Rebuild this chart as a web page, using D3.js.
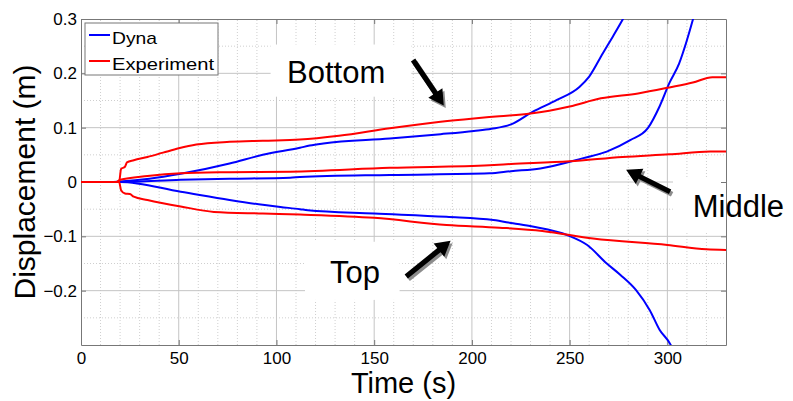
<!DOCTYPE html>
<html>
<head>
<meta charset="utf-8">
<script src="https://cdn.jsdelivr.net/npm/d3@7"></script>
<style>
  html, body { margin: 0; padding: 0; background: #fff; }
  svg { display: block; font-family: "Liberation Sans", Arial, sans-serif; }
</style>
</head>
<body>
<svg id="chart" width="793" height="401"></svg>
<script>
// Displacement histories at three heights: LS-Dyna simulation vs. experiment
const xTicks = [0, 50, 100, 150, 200, 250, 300];
const yTicks = [-0.2, -0.1, 0, 0.1, 0.2, 0.3];

// Dyna (simulation) – time (s) / displacement (m)
const dynaBottomT = [0, 15, 20, 35, 51, 76, 93, 112, 117, 124, 158, 184, 201, 210, 220, 231, 243.5, 255, 260, 267, 272, 277, 281];
const dynaBottomV = [0, 0, 0.001, 0.006, 0.015, 0.034, 0.050, 0.063, 0.067, 0.071, 0.080, 0.088, 0.094, 0.098, 0.106, 0.129, 0.151, 0.175, 0.194, 0.237, 0.267, 0.298, 0.325];

const dynaMiddleT = [0, 15, 20, 51, 76, 107, 112, 158, 209, 220, 235, 257, 269, 281, 290, 296, 301, 306, 310, 313, 315];
const dynaMiddleV = [0, 0, 0, 0.004, 0.006, 0.008, 0.009, 0.013, 0.016, 0.020, 0.025, 0.044, 0.056, 0.077, 0.099, 0.139, 0.182, 0.218, 0.261, 0.298, 0.325];

const dynaTopT = [0, 15, 20, 51, 76, 93, 102, 112, 116, 150, 187, 211, 221, 231, 249, 259, 269, 276, 284, 291, 296, 302, 304];
const dynaTopV = [0, 0, 0, -0.018, -0.033, -0.042, -0.046, -0.050, -0.052, -0.058, -0.064, -0.070, -0.076, -0.082, -0.098, -0.116, -0.150, -0.171, -0.199, -0.236, -0.272, -0.302, -0.32];

// Experiment – time (s) / displacement (m)
const expBottomT = [0, 19.5, 20.5, 22.5, 23.5, 27, 34, 42, 50, 59, 76, 93, 112, 132, 158, 184, 201, 214, 230, 250, 266, 285, 301, 313, 323, 330];
const expBottomV = [0, 0, 0.024, 0.028, 0.036, 0.040, 0.046, 0.054, 0.062, 0.069, 0.074, 0.076, 0.078, 0.085, 0.099, 0.111, 0.117, 0.121, 0.126, 0.139, 0.154, 0.163, 0.174, 0.183, 0.193, 0.193];

const expMiddleT = [0, 18, 20, 34, 51, 76, 107, 158, 209, 220, 250, 277, 301, 322, 330];
const expMiddleV = [0, 0, 0.004, 0.011, 0.016, 0.018, 0.019, 0.026, 0.031, 0.033, 0.038, 0.046, 0.051, 0.056, 0.056];

const expTopT = [0, 19.5, 20.5, 22.5, 25, 27, 34, 51, 68, 93, 112, 150, 187, 214, 236, 262, 300, 320, 330];
const expTopV = [0, 0, -0.015, -0.021, -0.022, -0.027, -0.033, -0.045, -0.055, -0.058, -0.060, -0.066, -0.079, -0.084, -0.090, -0.104, -0.116, -0.124, -0.125];

const legendNames = ["Dyna", "Experiment"];
const colors = { Dyna: "#0000ff", Experiment: "#ff0000" };

const W = 793, H = 401;
const margin = { top: 19, right: 67, bottom: 56, left: 81 };
const x = d3.scaleLinear().domain([0, 330]).range([margin.left, W - margin.right]);
const y = d3.scaleLinear().domain([-0.3, 0.3]).range([H - margin.bottom, margin.top]);

const svg = d3.select("#chart");

svg.append("defs").append("clipPath").attr("id", "plotClip")
  .append("rect")
  .attr("x", x(0)).attr("y", y(0.3))
  .attr("width", x(330) - x(0)).attr("height", y(-0.3) - y(0.3));

// grid: dotted minor, solid major
const g = svg.append("g");
const minorX = d3.range(10, 330, 10).filter(v => v % 50 !== 0);
const minorY = d3.range(-0.25, 0.3, 0.1).map(v => +v.toFixed(2));
g.selectAll(".mx").data(minorX).join("line")
  .attr("x1", d => x(d)).attr("x2", d => x(d)).attr("y1", y(-0.3)).attr("y2", y(0.3))
  .attr("stroke", "#cfcfcf").attr("stroke-width", 1).attr("stroke-dasharray", "1,2");
g.selectAll(".my").data(minorY).join("line")
  .attr("y1", d => y(d)).attr("y2", d => y(d)).attr("x1", x(0)).attr("x2", x(330))
  .attr("stroke", "#cfcfcf").attr("stroke-width", 1).attr("stroke-dasharray", "1,2");
g.selectAll(".Mx").data(xTicks.filter(d => d > 0)).join("line")
  .attr("x1", d => x(d)).attr("x2", d => x(d)).attr("y1", y(-0.3)).attr("y2", y(0.3))
  .attr("stroke", "#c4c4c4").attr("stroke-width", 1);
g.selectAll(".My").data(yTicks.filter(d => d < 0.3)).join("line")
  .attr("y1", d => y(d)).attr("y2", d => y(d)).attr("x1", x(0)).attr("x2", x(330))
  .attr("stroke", "#c4c4c4").attr("stroke-width", 1);

// annotation label backgrounds
const notes = [
  { text: "Bottom", t: 105.4, v: 0.182, box: [97, 0.253, 169, 0.157] },
  { text: "Top", t: 127.4, v: -0.186, box: [114.6, -0.110, 163, -0.217] },
  { text: "Middle", t: 313, v: -0.0644, box: [302.9, 0.009, 365, -0.094] }
];
svg.selectAll(".nbox").data(notes).join("rect")
  .attr("x", d => x(d.box[0])).attr("y", d => y(d.box[1]))
  .attr("width", d => x(d.box[2]) - x(d.box[0])).attr("height", d => y(d.box[3]) - y(d.box[1]))
  .attr("fill", "#fff");

// axes box with inward ticks
const axisColor = "#777";
const tickFont = 17;
const ax = svg.append("g").attr("transform", `translate(0,${y(-0.3)})`)
  .call(d3.axisBottom(x).tickValues(xTicks).tickSizeInner(-5).tickSizeOuter(0).tickPadding(7).tickFormat(d3.format("d")));
const ay = svg.append("g").attr("transform", `translate(${x(0)},0)`)
  .call(d3.axisLeft(y).tickValues(yTicks).tickSizeInner(-5).tickSizeOuter(0).tickPadding(4).tickFormat(d => d === 0 ? "0" : d3.format(".1f")(d)));
const axTop = svg.append("g").attr("transform", `translate(0,${y(0.3)})`)
  .call(d3.axisTop(x).tickValues(xTicks).tickSizeInner(-5).tickSizeOuter(0).tickFormat(""));
const ayRight = svg.append("g").attr("transform", `translate(${x(330)},0)`)
  .call(d3.axisRight(y).tickValues(yTicks).tickSizeInner(-5).tickSizeOuter(0).tickFormat(""));
[ax, ay, axTop, ayRight].forEach(a => {
  a.selectAll("path").attr("stroke", axisColor);
  a.selectAll("line").attr("stroke", axisColor);
  a.selectAll("text").attr("fill", "#000").style("font-size", tickFont + "px")
    .style("font-family", '"Liberation Sans", Arial, sans-serif');
});

// curves
const series = [
  { name: "Dyna", t: dynaBottomT, v: dynaBottomV },
  { name: "Dyna", t: dynaMiddleT, v: dynaMiddleV },
  { name: "Dyna", t: dynaTopT, v: dynaTopV },
  { name: "Experiment", t: expBottomT, v: expBottomV },
  { name: "Experiment", t: expMiddleT, v: expMiddleV },
  { name: "Experiment", t: expTopT, v: expTopV }
];
const line = d3.line().x(d => x(d[0])).y(d => y(d[1])).curve(d3.curveMonotoneX);
svg.append("g").attr("clip-path", "url(#plotClip)")
  .selectAll("path").data(series).join("path")
  .attr("d", s => line(s.t.map((t, i) => [t, s.v[i]])))
  .attr("fill", "none")
  .attr("stroke", s => colors[s.name])
  .attr("stroke-width", 2)
  .attr("stroke-linejoin", "round");

// legend
const lg = svg.append("g");
lg.append("rect").attr("x", 85).attr("y", 23).attr("width", 133).attr("height", 52)
  .attr("fill", "#fff").attr("stroke", axisColor).attr("stroke-width", 1);
const lgLen = { Dyna: 45, Experiment: 102 };
legendNames.forEach((n, i) => {
  const cy = 35 + i * 26;
  lg.append("line").attr("x1", 89).attr("x2", 110).attr("y1", cy).attr("y2", cy)
    .attr("stroke", colors[n]).attr("stroke-width", 2);
  lg.append("text").attr("x", 112).attr("y", cy + 8.5).text(n)
    .attr("font-size", 17).attr("textLength", lgLen[n]).attr("lengthAdjust", "spacingAndGlyphs");
});

// axis titles
svg.append("text").attr("x", (x(0) + x(330)) / 2).attr("y", 393)
  .attr("text-anchor", "middle").attr("font-size", 29).text("Time (s)");
svg.append("text").attr("transform", `translate(35,${(y(0.3) + y(-0.3)) / 2}) rotate(-90)`)
  .attr("text-anchor", "middle").attr("font-size", 30).text("Displacement (m)");

// annotation arrows (tail -> tip) in data units
const arrows = [
  { from: [169.9, 0.2245], to: [185.6, 0.1410] },
  { from: [166.4, -0.174], to: [189.1, -0.108] },
  { from: [301.4, -0.0179], to: [278.9, 0.0225] }
];
function arrowPolygon(a, dx, dy) {
  const x0 = x(a.from[0]) + dx, y0 = y(a.from[1]) + dy;
  const x1 = x(a.to[0]) + dx, y1 = y(a.to[1]) + dy;
  const L = Math.hypot(x1 - x0, y1 - y0);
  const ux = (x1 - x0) / L, uy = (y1 - y0) / L, px = -uy, py = ux;
  const hw = 2.6, headLen = 15, headW = 8.5;
  const bx = x1 - ux * headLen, by = y1 - uy * headLen;
  const pts = [
    [x0 + px * hw, y0 + py * hw],
    [bx + px * hw, by + py * hw],
    [bx + px * headW, by + py * headW],
    [x1, y1],
    [bx - px * headW, by - py * headW],
    [bx - px * hw, by - py * hw],
    [x0 - px * hw, y0 - py * hw]
  ];
  return pts.map(p => p.join(",")).join(" ");
}
svg.selectAll(".ashadow").data(arrows).join("polygon")
  .attr("points", a => arrowPolygon(a, 2, 2.5)).attr("fill", "#8c8c8c");
svg.selectAll(".arrow").data(arrows).join("polygon")
  .attr("points", a => arrowPolygon(a, 0, 0)).attr("fill", "#000");

// annotation labels
svg.selectAll(".ntext").data(notes).join("text")
  .attr("x", d => x(d.t)).attr("y", d => y(d.v))
  .attr("font-size", 31).text(d => d.text);
</script>
</body>
</html>
